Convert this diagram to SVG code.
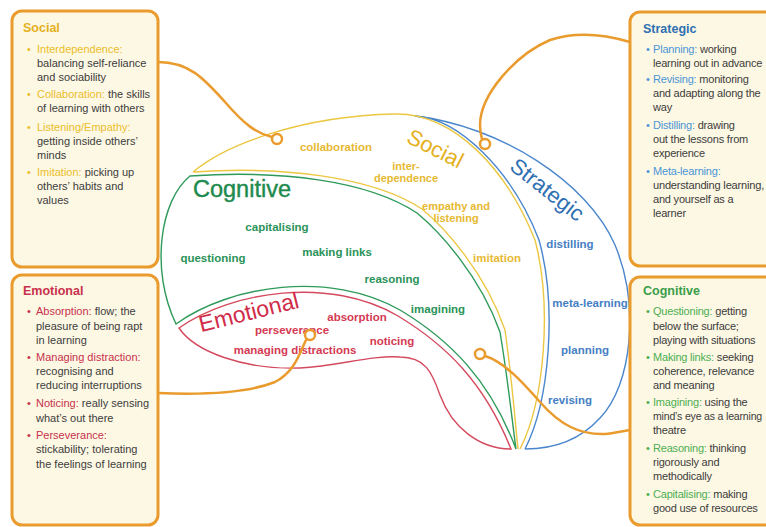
<svg xmlns="http://www.w3.org/2000/svg" width="766" height="527" viewBox="0 0 766 527">
<style>
.bg{fill:#ffffff}
.box{fill:#fdf8e4;stroke:#ea9b2d;stroke-width:3}
.conn{fill:none;stroke:#ea9b2d;stroke-width:2.5;stroke-linecap:round}
.dot{fill:#ffffff;stroke:#ea9b2d;stroke-width:2.5}
.ln{fill:none;stroke-width:1.4}
.ly{stroke:#ecc742}
.lg{stroke:#2e9a5a}
.lb{stroke:#4a86cc}
.lr{stroke:#d44a5e}
.t{font-family:"Liberation Sans",Arial,sans-serif;font-size:11px;fill:#3c3c3c}
.r{letter-spacing:-0.2px}
.h{font-weight:bold;font-size:12.5px;letter-spacing:0}
.lab{font-family:"Liberation Sans",Arial,sans-serif;font-weight:bold;font-size:11.5px;text-anchor:middle}
.sm{font-size:11px}
.big{font-family:"Liberation Sans",Arial,sans-serif;font-size:22px}
.cy{fill:#ebbd2a}
.cyt{fill:#e4b020}
.cr{fill:#c8304c}
.cb{fill:#4a95d6}
.cbt{fill:#2f6fb2}
.cg{fill:#4cae52}
.cgt{fill:#3a9e48}
.iy{fill:#e6b932}
.ig{fill:#2a9358}
.ib{fill:#4580c4}
.ir{fill:#d43a52}
</style>
<rect class="bg" x="0" y="0" width="766" height="527"/>

<g id="region-strategic">
<path class="ln lb" d="M415,116 C500,126 588,182 615,245 C640,305 632,385 600,418 C580,440 555,449 525,449"/>
<path class="ln lb" d="M415,116 C458,118 512,170 539,240 C557,305 550,400 525,449"/>
<text class="big cbt" transform="translate(547,190) rotate(38)" text-anchor="middle" x="0" y="7">Strategic</text>
<text class="lab ib" x="570" y="248">distilling</text>
<text class="lab ib" x="590" y="307">meta-learning</text>
<text class="lab ib" x="585" y="354">planning</text>
<text class="lab ib" x="570" y="404">revising</text>
</g>

<g id="region-social">
<path class="ln ly" d="M193,172 C225,145 300,116 395,114 C455,113 507,170 535,240 C552,305 545,400 520,449"/>
<path class="ln ly" d="M193,172 C280,166 372,176 422,209 C445,228 485,272 505,330 C512,380 515,420 518,449"/>
<text class="big cyt" transform="translate(435,149) rotate(27)" text-anchor="middle" x="0" y="7">Social</text>
<text class="lab iy" x="336" y="151">collaboration</text>
<text class="lab iy sm" x="406" y="170">inter-</text>
<text class="lab iy sm" x="406" y="182">dependence</text>
<text class="lab iy sm" x="456" y="210">empathy and</text>
<text class="lab iy sm" x="456" y="222">listening</text>
<text class="lab iy" x="497" y="262">imitation</text>
</g>

<g id="region-cognitive">
<path class="ln lg" d="M190,176 C280,170 367,180 417,213 C440,232 480,276 500,332 C508,380 512,420 516,449 C490,380 450,340 400,310 C330,270 230,285 176,324 C150,270 160,200 190,176 Z"/>
<text class="big" x="193" y="197" style="font-size:23.5px;fill:#1d8a4e;stroke:#1d8a4e;stroke-width:0.4">Cognitive</text>
<text class="lab ig" x="277" y="231">capitalising</text>
<text class="lab ig" x="213" y="262">questioning</text>
<text class="lab ig" x="337" y="256">making links</text>
<text class="lab ig" x="392" y="283">reasoning</text>
<text class="lab ig" x="438" y="313">imagining</text>
</g>

<g id="region-emotional">
<path class="ln lr" d="M179,328 C232,291 330,276 398,316 C446,345 484,382 511,449 C480,449 452,428 440,395 C432,372 425,357 400,357 C370,355 340,366 300,368 C245,370 195,352 179,328 Z"/>
<text class="big" transform="translate(249,313) rotate(-14)" text-anchor="middle" x="0" y="7" style="font-size:23px;fill:#d02c48">Emotional</text>
<text class="lab ir" x="357" y="321">absorption</text>
<text class="lab ir" x="292" y="334">perseverance</text>
<text class="lab ir" x="295" y="354">managing distractions</text>
<text class="lab ir" x="392" y="345">noticing</text>
</g>

<g id="connectors">
<path class="conn" d="M158,62 C190,62 205,80 225,102 C245,125 256,133 272,137"/>
<circle class="dot" cx="277" cy="139" r="5"/>
<path class="conn" d="M630,42 C610,36 580,30 550,40 C515,55 480,95 480,125 C480,132 481,135 482,139"/>
<circle class="dot" cx="485" cy="144" r="5"/>
<path class="conn" d="M158,393 C205,395 250,392 275,382 C295,372 300,352 306,340"/>
<circle class="dot" cx="310" cy="335" r="5"/>
<path class="conn" d="M485,356 C505,362 525,385 540,402 C560,425 580,435 605,434 C615,433 622,431 630,430"/>
<circle class="dot" cx="480" cy="354" r="5"/>
</g>

<g id="box-social">
<rect class="box" x="12" y="11" width="146" height="256" rx="10"/>
<text class="t h cyt" x="23" y="32">Social</text>
<text class="t" y="53"><tspan class="cy" x="27">•</tspan><tspan class="cy" x="37">Interdependence:</tspan></text>
<text class="t" x="37" y="67">balancing self-reliance</text>
<text class="t" x="37" y="81">and sociability</text>
<text class="t" y="98"><tspan class="cy" x="27">•</tspan><tspan class="cy" x="37">Collaboration:</tspan> the skills</text>
<text class="t" x="37" y="112">of learning with others</text>
<text class="t" y="131"><tspan class="cy" x="27">•</tspan><tspan class="cy" x="37">Listening/Empathy:</tspan></text>
<text class="t" x="37" y="145">getting inside others’</text>
<text class="t" x="37" y="159">minds</text>
<text class="t" y="176"><tspan class="cy" x="27">•</tspan><tspan class="cy" x="37">Imitation:</tspan> picking up</text>
<text class="t" x="37" y="190">others’ habits and</text>
<text class="t" x="37" y="204">values</text>
</g>

<g id="box-emotional">
<rect class="box" x="12" y="275" width="146" height="250" rx="10"/>
<text class="t h cr" x="23" y="295">Emotional</text>
<text class="t" y="315"><tspan class="cr" x="27">•</tspan><tspan class="cr" x="36">Absorption:</tspan> flow; the</text>
<text class="t" x="36" y="330">pleasure of being rapt</text>
<text class="t" x="36" y="344">in learning</text>
<text class="t" y="361"><tspan class="cr" x="27">•</tspan><tspan class="cr" x="36">Managing distraction:</tspan></text>
<text class="t" x="36" y="375">recognising and</text>
<text class="t" x="36" y="389">reducing interruptions</text>
<text class="t" y="407"><tspan class="cr" x="27">•</tspan><tspan class="cr" x="36">Noticing:</tspan> really sensing</text>
<text class="t" x="36" y="422">what’s out there</text>
<text class="t" y="439"><tspan class="cr" x="27">•</tspan><tspan class="cr" x="36">Perseverance:</tspan></text>
<text class="t" x="36" y="453">stickability; tolerating</text>
<text class="t" x="36" y="468">the feelings of learning</text>
</g>

<g id="box-strategic">
<rect class="box" x="630" y="12" width="150" height="254" rx="10"/>
<text class="t h cbt" x="643" y="33">Strategic</text>
<text class="t r" y="53"><tspan class="cb" x="646">•</tspan><tspan class="cb" x="653">Planning:</tspan> working</text>
<text class="t r" x="653" y="67">learning out in advance</text>
<text class="t r" y="83"><tspan class="cb" x="646">•</tspan><tspan class="cb" x="653">Revising:</tspan> monitoring</text>
<text class="t r" x="653" y="97">and adapting along the</text>
<text class="t r" x="653" y="111">way</text>
<text class="t r" y="129"><tspan class="cb" x="646">•</tspan><tspan class="cb" x="653">Distilling:</tspan> drawing</text>
<text class="t r" x="653" y="143">out the lessons from</text>
<text class="t r" x="653" y="157">experience</text>
<text class="t r" y="175"><tspan class="cb" x="646">•</tspan><tspan class="cb" x="653">Meta-learning:</tspan></text>
<text class="t r" x="653" y="189" textLength="111" lengthAdjust="spacingAndGlyphs">understanding learning,</text>
<text class="t r" x="653" y="203">and yourself as a</text>
<text class="t r" x="653" y="217">learner</text>
</g>

<g id="box-cognitive">
<rect class="box" x="630" y="277" width="150" height="248" rx="10"/>
<text class="t h cgt" x="643" y="295">Cognitive</text>
<text class="t r" y="315"><tspan class="cg" x="646">•</tspan><tspan class="cg" x="653">Questioning:</tspan> getting</text>
<text class="t r" x="653" y="330">below the surface;</text>
<text class="t r" x="653" y="344">playing with situations</text>
<text class="t r" y="361"><tspan class="cg" x="646">•</tspan><tspan class="cg" x="653">Making links:</tspan> seeking</text>
<text class="t r" x="653" y="375">coherence, relevance</text>
<text class="t r" x="653" y="389">and meaning</text>
<text class="t r" y="406"><tspan class="cg" x="646">•</tspan><tspan class="cg" x="653">Imagining:</tspan> using the</text>
<text class="t r" x="653" y="420" textLength="109" lengthAdjust="spacingAndGlyphs">mind’s eye as a learning</text>
<text class="t r" x="653" y="434">theatre</text>
<text class="t r" y="452"><tspan class="cg" x="646">•</tspan><tspan class="cg" x="653">Reasoning:</tspan> thinking</text>
<text class="t r" x="653" y="466">rigorously and</text>
<text class="t r" x="653" y="480">methodically</text>
<text class="t r" y="498"><tspan class="cg" x="646">•</tspan><tspan class="cg" x="653">Capitalising:</tspan> making</text>
<text class="t r" x="653" y="512">good use of resources</text>
</g>
</svg>
